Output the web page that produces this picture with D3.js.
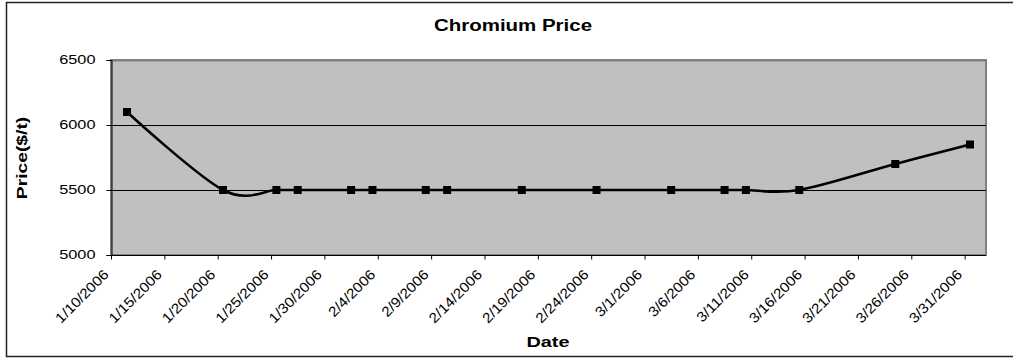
<!DOCTYPE html>
<html>
<head>
<meta charset="utf-8">
<script src="https://cdn.jsdelivr.net/npm/d3@7"></script>
<style>
  html, body { margin: 0; padding: 0; background: #fff; }
  svg { display: block; }
  text { font-family: "Liberation Sans", Arial, sans-serif; fill: #000; }
</style>
</head>
<body>
<svg id="chart" width="1013" height="358"></svg>
<script>
const title = "Chromium Price";
const xTitle = "Date";
const yTitle = "Price($/t)";

const dates = ["1/11/2006","1/20/2006","1/25/2006","1/27/2006","2/1/2006","2/3/2006",
  "2/8/2006","2/10/2006","2/17/2006","2/24/2006","3/3/2006","3/8/2006","3/10/2006",
  "3/15/2006","3/24/2006","3/31/2006"];
const prices = [6100,5500,5500,5500,5500,5500,5500,5500,5500,5500,5500,5500,5500,5500,5700,5850];

const xTickLabels = ["1/10/2006","1/15/2006","1/20/2006","1/25/2006","1/30/2006","2/4/2006",
  "2/9/2006","2/14/2006","2/19/2006","2/24/2006","3/1/2006","3/6/2006","3/11/2006",
  "3/16/2006","3/21/2006","3/26/2006","3/31/2006"];
const yTicks = [5000, 5500, 6000, 6500];
const xDomain = ["1/10/2006", "4/2/2006"];

const parse = d3.timeParse("%m/%d/%Y");
const svg = d3.select("#chart");

const plot = { left: 111, right: 986, top: 60, bottom: 255 };

const x = d3.scaleTime().domain(xDomain.map(parse)).range([plot.left, plot.right]);
const y = d3.scaleLinear().domain([5000, 6500]).range([plot.bottom, plot.top]);

// outer chart border
svg.append("rect").attr("x", 6.5).attr("y", 2.5).attr("width", 1030).attr("height", 354)
  .attr("fill", "#fff").attr("stroke", "#222").attr("stroke-width", 1.5);

// plot area
svg.append("rect").attr("x", plot.left).attr("y", plot.top)
  .attr("width", plot.right - plot.left).attr("height", plot.bottom - plot.top)
  .attr("fill", "#C0C0C0").attr("stroke", "#808080").attr("stroke-width", 2);

// gridlines
svg.append("g").selectAll("line").data(yTicks.filter(d => d > 5000)).join("line")
  .attr("x1", plot.left).attr("x2", plot.right)
  .attr("y1", d => Math.round(y(d)) + 0.5).attr("y2", d => Math.round(y(d)) + 0.5)
  .attr("stroke", d => d === 6500 ? "#808080" : "#000").attr("stroke-width", d => d === 6500 ? 2 : 1);

// y axis
const yAxis = svg.append("g").attr("transform", `translate(${plot.left + 0.5},0)`)
  .call(d3.axisLeft(y).tickValues(yTicks).tickSize(5).tickPadding(11).tickFormat(d3.format("d")));
yAxis.select(".domain").attr("stroke", "#000");
yAxis.selectAll(".tick line").attr("stroke", "#000");
yAxis.selectAll(".tick text").attr("font-size", 12).attr("fill", "#000")
  .each(function() {
    const t = d3.select(this);
    const xx = +t.attr("x");
    t.attr("x", null).attr("transform", `translate(${xx},0) scale(1.36,1)`);
  });

// x axis
const xAxis = svg.append("g").attr("transform", `translate(0,${plot.bottom + 0.5})`)
  .call(d3.axisBottom(x).tickValues(xTickLabels.map(parse)).tickSize(4)
    .tickFormat((d, i) => xTickLabels[i]));
xAxis.select(".domain").attr("stroke", "#000").attr("d", `M${plot.left},0H${plot.right}`);
xAxis.selectAll(".tick line").attr("stroke", "#000");
xAxis.selectAll(".tick text").attr("font-size", 14).attr("text-anchor", "end")
  .attr("y", null).attr("dy", null).attr("fill", "#000")
  .attr("transform", "translate(-2,20) rotate(-45) scale(1.1,1)");

// line
const pts = dates.map((d, i) => ({ date: d3.timeHour.offset(parse(d), 12), value: prices[i] }));
const line = d3.line().x(d => x(d.date)).y(d => y(d.value)).curve(d3.curveCatmullRom.alpha(0));
svg.append("path").datum(pts).attr("d", line)
  .attr("fill", "none").attr("stroke", "#000").attr("stroke-width", 2.6);

// markers
const ms = 8;
svg.append("g").selectAll("rect").data(pts).join("rect")
  .attr("x", d => x(d.date) - ms / 2).attr("y", d => y(d.value) - ms / 2)
  .attr("width", ms).attr("height", ms).attr("fill", "#000");

// titles
svg.append("text").attr("transform", "translate(513,31) scale(1.28,1)")
  .attr("text-anchor", "middle").attr("font-size", 16).attr("font-weight", "bold").text(title);
svg.append("text").attr("transform", "translate(548,347) scale(1.28,1)")
  .attr("text-anchor", "middle").attr("font-size", 15.5).attr("font-weight", "bold").text(xTitle);
svg.append("text").attr("transform", "translate(27,158) rotate(-90) scale(1.33,1)")
  .attr("text-anchor", "middle").attr("font-size", 14.5).attr("font-weight", "bold").text(yTitle);
</script>
</body>
</html>
